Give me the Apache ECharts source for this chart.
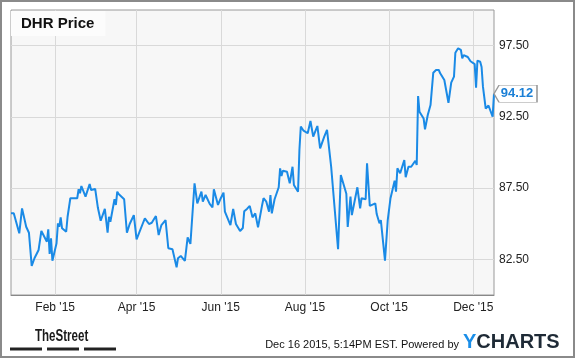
<!DOCTYPE html>
<html>
<head>
<meta charset="utf-8">
<script src="https://cdn.jsdelivr.net/npm/echarts@6/dist/echarts.min.js"></script>
<style>
html,body{margin:0;padding:0;background:#fff;}
#c{width:575px;height:358px;}
</style>
</head>
<body>
<div id="c"></div>
<script>
const dates = [
'2014-12-31','2015-01-02','2015-01-06','2015-01-08','2015-01-11','2015-01-13','2015-01-15','2015-01-17','2015-01-20','2015-01-22',
'2015-01-26','2015-01-27','2015-01-28','2015-01-29','2015-01-30','2015-02-02','2015-02-03','2015-02-04','2015-02-05','2015-02-06',
'2015-02-09','2015-02-10','2015-02-12','2015-02-17','2015-02-18','2015-02-19','2015-02-20','2015-02-23','2015-02-26','2015-02-27',
'2015-03-02','2015-03-04','2015-03-05','2015-03-06','2015-03-09','2015-03-11','2015-03-12','2015-03-13','2015-03-16','2015-03-17',
'2015-03-18','2015-03-19','2015-03-20','2015-03-23','2015-03-25','2015-03-27','2015-03-30','2015-04-01','2015-04-06','2015-04-07',
'2015-04-08','2015-04-10','2015-04-12','2015-04-15','2015-04-17','2015-04-19','2015-04-22','2015-04-24','2015-04-27','2015-04-28',
'2015-04-30','2015-05-01','2015-05-03','2015-05-04','2015-05-06','2015-05-08','2015-05-10','2015-05-13','2015-05-14','2015-05-15',
'2015-05-18','2015-05-19','2015-05-21','2015-05-24','2015-05-26','2015-05-27','2015-05-28','2015-05-30','2015-06-01','2015-06-03',
'2015-06-04','2015-06-05','2015-06-08','2015-06-10','2015-06-12','2015-06-15','2015-06-17','2015-06-18','2015-06-20','2015-06-22',
'2015-06-24','2015-06-26','2015-06-28','2015-07-01','2015-07-02','2015-07-04','2015-07-06','2015-07-07','2015-07-08','2015-07-09',
'2015-07-10','2015-07-13','2015-07-14','2015-07-15','2015-07-16','2015-07-19','2015-07-21','2015-07-22','2015-07-23','2015-07-24',
'2015-07-27','2015-07-28','2015-07-29','2015-07-31','2015-08-01','2015-08-03','2015-08-05','2015-08-07','2015-08-10','2015-08-12',
'2015-08-15','2015-08-17','2015-08-18','2015-08-20','2015-08-25','2015-08-27','2015-08-31','2015-09-01','2015-09-03','2015-09-04',
'2015-09-08','2015-09-10','2015-09-11','2015-09-14','2015-09-15','2015-09-17','2015-09-21','2015-09-22','2015-09-23','2015-09-24',
'2015-09-25','2015-09-28','2015-09-30','2015-10-01','2015-10-02','2015-10-05','2015-10-06','2015-10-07','2015-10-09','2015-10-12',
'2015-10-13','2015-10-15','2015-10-17','2015-10-20','2015-10-21','2015-10-22','2015-10-23','2015-10-26','2015-10-27','2015-10-29',
'2015-10-31','2015-11-02','2015-11-04','2015-11-06','2015-11-07','2015-11-10','2015-11-11','2015-11-13','2015-11-15','2015-11-17',
'2015-11-18','2015-11-20','2015-11-22','2015-11-23','2015-11-24','2015-11-27','2015-11-29','2015-11-30','2015-12-02','2015-12-03',
'2015-12-04','2015-12-06','2015-12-07','2015-12-08','2015-12-09','2015-12-10','2015-12-12','2015-12-13','2015-12-15','2015-12-16'
];
const prices = [
85.73,85.73,84.33,86.08,84.79,84.37,82.04,82.58,83.16,84.49,
83.74,84.61,82.88,83.98,82.41,83.63,85.03,84.79,85.45,84.68,
84.44,85.49,86.79,86.79,87.42,87.14,87.65,86.90,87.79,87.37,
87.44,86.10,86.20,85.21,86.04,84.37,85.49,85.14,86.72,86.32,
87.25,87.09,87.14,86.72,84.37,84.98,85.61,83.91,85.14,85.38,
85.38,84.98,85.07,85.54,84.21,84.91,85.26,83.28,83.21,83.28,
81.94,82.58,82.74,82.74,82.39,84.05,83.58,87.84,87.79,86.43,
87.25,86.55,87.02,86.39,86.15,87.42,87.40,86.32,86.79,87.18,
85.85,85.90,84.91,86.04,84.98,84.49,84.70,85.87,86.04,86.25,
85.45,85.73,84.75,86.32,86.79,86.55,85.85,87.02,85.73,85.73,
86.72,87.56,88.89,88.35,88.72,88.65,87.84,87.84,89.00,87.72,
87.25,90.18,91.82,91.53,91.45,91.35,92.21,91.11,91.86,90.29,
91.11,91.58,91.50,89.00,83.21,88.42,87.10,84.77,86.90,85.61,
87.56,86.08,86.79,86.72,89.24,86.25,86.43,85.68,85.70,85.03,
85.26,82.41,85.26,85.30,86.79,88.02,87.25,88.89,88.54,89.47,
88.26,89.00,89.00,89.42,89.12,93.96,92.86,92.39,91.63,92.63,
93.33,95.60,95.79,95.79,95.56,95.09,94.97,93.49,94.90,95.32,
97.00,97.31,97.20,96.60,96.84,96.70,96.40,96.50,96.20,94.55,
96.45,96.37,96.00,94.62,94.60,93.08,93.30,93.30,92.51,94.12
];
const yTicks = [82.5, 87.5, 92.5, 97.5];
const xTicks = ['2015-02-01','2015-04-01','2015-06-01','2015-08-01','2015-10-01','2015-12-01'];
const monthNames = ['Jan','Feb','Mar','Apr','May','Jun','Jul','Aug','Sep','Oct','Nov','Dec'];
const xMin = '2014-12-31', xMax = '2015-12-16';
const lastValue = prices[prices.length - 1];
const titleText = 'DHR Price';
const stampText = 'Dec 16 2015, 5:14PM EST. Powered by';

const FONT = '"Liberation Sans", Arial, sans-serif';
const ts = s => Date.parse(s + 'T00:00:00Z');
const seriesData = dates.map((d, i) => [ts(d), prices[i]]);
const xTickValues = xTicks.map(ts);

const chart = echarts.init(document.getElementById('c'), null, {renderer: 'canvas'});
chart.setOption({
  animation: false,
  backgroundColor: '#ffffff',
  title: {
    text: titleText,
    left: 11, top: 11,
    padding: [5, 11, 5, 10],
    backgroundColor: '#fcfcfc',
    textStyle: {fontFamily: FONT, fontSize: 15, fontWeight: 'bold', color: '#111', lineHeight: 15}
  },
  grid: {
    left: 11, top: 10, width: 483, height: 285,
    show: true, backgroundColor: '#f7f7f7', borderColor: '#999', borderWidth: 1
  },
  xAxis: {
    type: 'value', min: ts(xMin), max: ts(xMax),
    axisLine: {show: true, onZero: false, lineStyle: {color: '#888', width: 1}},
    axisTick: {show: false, customValues: xTickValues},
    splitLine: {show: true, lineStyle: {color: '#d9d9d9', width: 1}},
    axisLabel: {
      customValues: xTickValues,
      margin: 7,
      color: '#222', fontFamily: FONT, fontSize: 12,
      formatter: function (v) { const d = new Date(v); return monthNames[d.getUTCMonth()] + " '" + String(d.getUTCFullYear()).slice(2); }
    }
  },
  yAxis: {
    type: 'value', position: 'right', min: 80, max: 100,
    axisLine: {show: false},
    axisTick: {show: false, customValues: yTicks},
    splitLine: {show: true, lineStyle: {color: '#d9d9d9', width: 1}},
    axisLabel: {
      customValues: yTicks,
      margin: 5,
      color: '#222', fontFamily: FONT, fontSize: 12,
      formatter: function (v) { return v.toFixed(2); }
    }
  },
  series: [{
    type: 'line',
    data: seriesData,
    showSymbol: false,
    symbol: 'none',
    lineStyle: {color: '#1a8ae6', width: 2},
    markPoint: {
      silent: true,
      data: [{coord: [ts(dates[dates.length - 1]), lastValue], value: lastValue}],
      symbol: 'path://M0,8.5 L5,0 L43,0 L43,17 L5,17 Z',
      symbolSize: [43, 17],
      symbolOffset: [21.5, 0],
      itemStyle: {color: '#ffffff', borderColor: '#999', borderWidth: 1},
      label: {
        show: true, position: 'inside', offset: [1.5, 0],
        color: '#1a7fd6', fontFamily: FONT, fontSize: 13, fontWeight: 'bold',
        formatter: function (p) { return p.value.toFixed(2); }
      }
    }
  }],
  graphic: [
    {type: 'rect', shape: {x: 1, y: 1, width: 573, height: 356}, style: {fill: 'none', stroke: '#8a8a8a', lineWidth: 2}, silent: true},
    {type: 'text', x: 35, y: 336, scaleX: 0.68, style: {text: 'TheStreet', font: 'bold 17px ' + FONT, fill: '#1a1a1a', verticalAlign: 'middle', textVerticalAlign: 'middle'}},
    {type: 'rect', shape: {x: 10, y: 347.5, width: 32, height: 3}, style: {fill: '#222'}},
    {type: 'rect', shape: {x: 47, y: 347.5, width: 32, height: 3}, style: {fill: '#222'}},
    {type: 'rect', shape: {x: 84, y: 347.5, width: 32, height: 3}, style: {fill: '#222'}},
    {type: 'text', x: 459, y: 344.5, style: {text: stampText, font: '11px ' + FONT, fill: '#111', textAlign: 'right', align: 'right', verticalAlign: 'middle', textVerticalAlign: 'middle'}},
    {type: 'text', x: 463, y: 342.5, style: {
      text: '{y|Y}{c|CHARTS}', verticalAlign: 'middle', textVerticalAlign: 'middle',
      rich: {
        y: {font: 'bold 20px ' + FONT, fill: '#1a8ee8'},
        c: {font: 'bold 20px ' + FONT, fill: '#1e2a36'}
      }
    }}
  ]
});
</script>
</body>
</html>
